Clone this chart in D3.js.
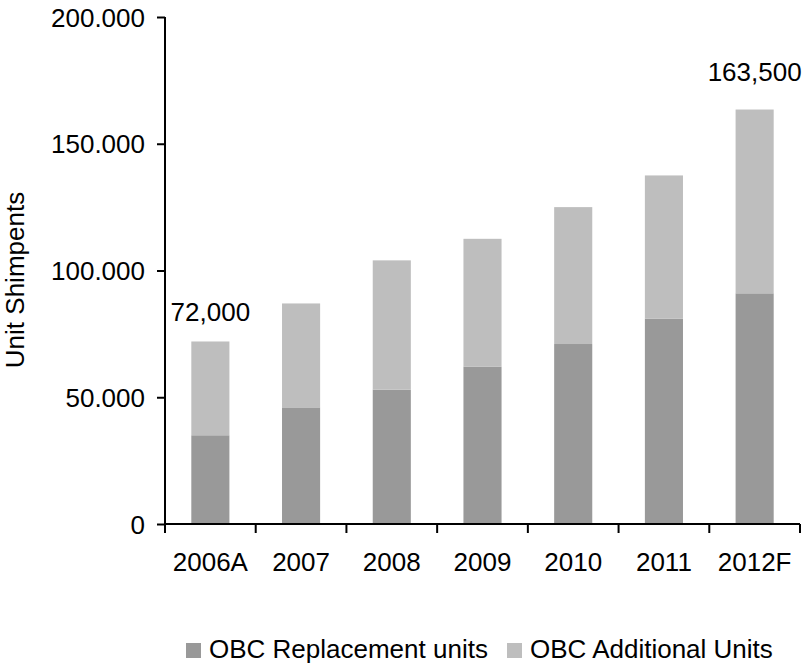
<!DOCTYPE html>
<html>
<head>
<meta charset="utf-8">
<script src="https://cdn.jsdelivr.net/npm/d3@7"></script>
<style>
  html, body { margin: 0; padding: 0; background: #fff; }
  svg text { font-family: "Liberation Sans", Arial, sans-serif; fill: #000; }
</style>
</head>
<body>
<svg id="chart" width="802" height="666"></svg>
<script>
// Unit shipments per year, stacked: replacement units + additional units
const years = ["2006A", "2007", "2008", "2009", "2010", "2011", "2012F"];
const replacementUnits = [35000, 46000, 53000, 62000, 71000, 81000, 91000];
const additionalUnits = [37000, 41000, 51000, 50500, 54000, 56500, 72500];
const seriesNames = ["OBC Replacement units", "OBC Additional Units"];
const yTicks = [0, 50000, 100000, 150000, 200000];
const totalLabels = [
  { year: "2006A", text: "72,000", gap: 20 },
  { year: "2012F", text: "163,500", gap: 29 }
];

const colors = ["#999999", "#bebebe"];
const fontSize = 26;

const svg = d3.select("#chart");
const plotLeft = 165, plotRight = 800, plotTop = 17, plotBottom = 524;

const x = d3.scaleBand().domain(years).range([plotLeft, plotRight]).paddingInner(0.58).paddingOuter(0.29);
const y = d3.scaleLinear().domain([0, 200000]).range([plotBottom, plotTop]);

const rows = years.map((yr, i) => ({ year: yr, replacement: replacementUnits[i], additional: additionalUnits[i] }));
const layers = d3.stack().keys(["replacement", "additional"])(rows);

svg.append("g").selectAll("g")
  .data(layers).join("g")
  .attr("fill", (d, i) => colors[i])
  .selectAll("rect")
  .data(d => d).join("rect")
  .attr("x", d => x(d.data.year))
  .attr("width", x.bandwidth())
  .attr("y", d => y(d[1]))
  .attr("height", d => y(d[0]) - y(d[1]));

// Y axis
const yAxis = d3.axisLeft(y).tickValues(yTicks).tickSize(8).tickPadding(12)
  .tickFormat(v => v === 0 ? "0" : (v / 1000) + ".000");
const gy = svg.append("g").attr("transform", `translate(${plotLeft},0)`).call(yAxis);
gy.select(".domain").attr("stroke", "#000").attr("stroke-width", 2).attr("d", `M0,${plotTop}V${plotBottom}`);
gy.selectAll(".tick line").attr("stroke", "#000").attr("stroke-width", 2);
gy.selectAll(".tick text").attr("font-size", fontSize).attr("dy", "0.35em")
  .attr("font-family", "Liberation Sans, Arial, sans-serif");

// X axis with ticks on band boundaries
const gx = svg.append("g").attr("transform", `translate(0,${plotBottom})`);
gx.append("line").attr("x1", plotLeft).attr("x2", plotRight).attr("y1", 0).attr("y2", 0)
  .attr("stroke", "#000").attr("stroke-width", 2);
const boundaries = d3.range(years.length + 1).map(i => plotLeft + i * x.step());
gx.selectAll("line.tk").data(boundaries).join("line").attr("class", "tk")
  .attr("x1", d => d).attr("x2", d => d).attr("y1", 0).attr("y2", 9)
  .attr("stroke", "#000").attr("stroke-width", 2);
gx.selectAll("text").data(years).join("text")
  .attr("x", d => x(d) + x.bandwidth() / 2)
  .attr("y", 47)
  .attr("text-anchor", "middle")
  .attr("font-size", fontSize)
  .text(d => d);

// Total labels above the first and last stacks
svg.selectAll("text.total").data(totalLabels).join("text").attr("class", "total")
  .attr("x", d => x(d.year) + x.bandwidth() / 2)
  .attr("y", d => {
    const i = years.indexOf(d.year);
    return y(replacementUnits[i] + additionalUnits[i]) - d.gap;
  })
  .attr("text-anchor", "middle")
  .attr("font-size", fontSize)
  .text(d => d.text);

// Y axis title
svg.append("text")
  .attr("transform", "translate(24,280) rotate(-90)")
  .attr("text-anchor", "middle")
  .attr("font-size", fontSize)
  .text("Unit Shimpents");

// Legend
const legend = svg.append("g").attr("transform", "translate(186,650)");
const legendX = [0, 321];
seriesNames.forEach((name, i) => {
  const g = legend.append("g").attr("transform", `translate(${legendX[i]},0)`);
  g.append("rect").attr("x", 0).attr("y", -7).attr("width", 15).attr("height", 15).attr("fill", colors[i]);
  g.append("text").attr("x", 23).attr("y", 8).attr("font-size", fontSize).text(name);
});
</script>
</body>
</html>
